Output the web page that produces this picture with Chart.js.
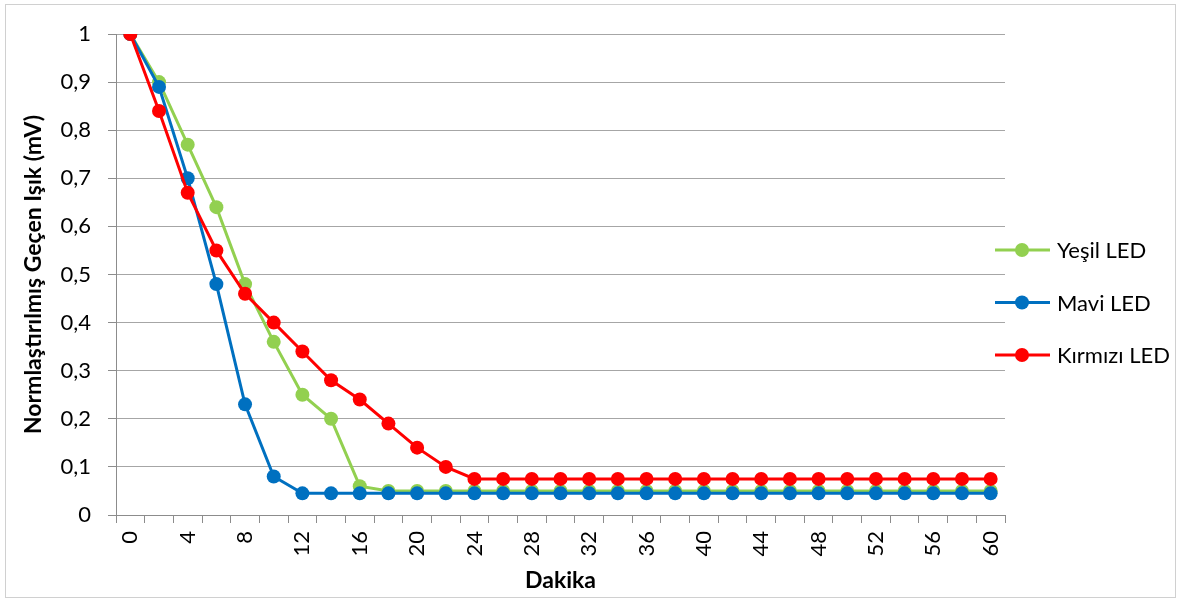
<!DOCTYPE html>
<html lang="tr">
<head>
  <meta charset="UTF-8" />
  <title>Normalize Geçen Işık - LED</title>
  <script src="https://cdn.jsdelivr.net/npm/chart.js"></script>
  <style>
    html, body {
      margin: 0;
      padding: 0;
      background: #fff;
    }
    #wrap {
      width: 1182px;
      height: 601px;
      position: relative;
    }
  </style>
</head>
<body>

<div id="wrap"><canvas id="ledChart"></canvas></div>

<script>
  // minutes (every other label is shown on the axis)
  const dakika = ['0', '2', '4', '6', '8', '10', '12', '14', '16', '18', '20', '22', '24', '26', '28', '30',
                  '32', '34', '36', '38', '40', '42', '44', '46', '48', '50', '52', '54', '56', '58', '60'];

  const yesilLed = [1, 0.9, 0.77, 0.64, 0.48, 0.36, 0.25, 0.2, 0.06, 0.05, 0.05, 0.05, 0.05, 0.05, 0.05, 0.05,
                    0.05, 0.05, 0.05, 0.05, 0.05, 0.05, 0.05, 0.05, 0.05, 0.05, 0.05, 0.05, 0.05, 0.05, 0.05];
  const maviLed = [1, 0.89, 0.7, 0.48, 0.23, 0.08, 0.045, 0.045, 0.045, 0.045, 0.045, 0.045, 0.045, 0.045, 0.045, 0.045,
                   0.045, 0.045, 0.045, 0.045, 0.045, 0.045, 0.045, 0.045, 0.045, 0.045, 0.045, 0.045, 0.045, 0.045, 0.045];
  const kirmiziLed = [1, 0.84, 0.67, 0.55, 0.46, 0.4, 0.34, 0.28, 0.24, 0.19, 0.14, 0.1, 0.075, 0.075, 0.075, 0.075,
                      0.075, 0.075, 0.075, 0.075, 0.075, 0.075, 0.075, 0.075, 0.075, 0.075, 0.075, 0.075, 0.075, 0.075, 0.075];

  const FONT = 'Lato, "Open Sans", sans-serif';
  const AXIS_GRAY = '#8c8c8c';
  const GRID_GRAY = '#a6a6a6';

  // white page + thin outer frame
  const frame = {
    id: 'frame',
    beforeDraw(chart) {
      const c = chart.ctx;
      c.save();
      c.fillStyle = '#fff';
      c.fillRect(0, 0, chart.width, chart.height);
      c.strokeStyle = '#d0d0d0';
      c.lineWidth = 1;
      c.strokeRect(5.5, 4.5, chart.width - 12, chart.height - 8);
      c.restore();
    }
  };

  // legend on the right: line with marker, then label
  const sideLegend = {
    id: 'sideLegend',
    afterDraw(chart) {
      const c = chart.ctx;
      const area = chart.chartArea;
      const x0 = area.right - 10;
      let y = area.top + 216;
      c.save();
      c.font = '22px ' + FONT;
      c.textBaseline = 'middle';
      c.textAlign = 'left';
      [0, 1, 2].forEach(i => {
        const ds = chart.data.datasets[i];
        c.strokeStyle = ds.borderColor;
        c.lineWidth = 3;
        c.beginPath();
        c.moveTo(x0, y);
        c.lineTo(x0 + 55, y);
        c.stroke();
        c.fillStyle = ds.backgroundColor;
        c.beginPath();
        c.arc(x0 + 27, y, 7, 0, Math.PI * 2);
        c.fill();
        c.fillStyle = '#000';
        c.fillText(ds.label, x0 + 62, y + 1);
        y += 52.5;
      });
      c.restore();
    }
  };

  function line(label, data, color, order) {
    return {
      label, data, order,
      borderColor: color,
      backgroundColor: color,
      borderWidth: 3,
      pointRadius: 7,
      pointBorderWidth: 0,
      pointBackgroundColor: color,
      tension: 0
    };
  }

  new Chart(document.getElementById('ledChart'), {
    type: 'line',
    data: {
      labels: dakika,
      datasets: [
        line('Yeşil LED', yesilLed, '#92d050', 3),
        line('Mavi LED', maviLed, '#0070c0', 2),
        line('Kırmızı LED', kirmiziLed, '#ff0000', 1)
      ]
    },
    options: {
      responsive: true,
      maintainAspectRatio: false,
      animation: false,
      events: [],
      layout: { padding: { left: 0, top: 34, right: 177, bottom: 0 } },
      plugins: {
        legend: { display: false },
        tooltip: { enabled: false }
      },
      scales: {
        x: {
          type: 'category',
          offset: true,
          afterFit(s) { s.height = 86; },
          grid: {
            offset: true,
            drawOnChartArea: false,
            drawTicks: true,
            tickLength: 8,
            color: AXIS_GRAY
          },
          border: { color: AXIS_GRAY },
          ticks: {
            autoSkip: false,
            minRotation: 90,
            maxRotation: 90,
            padding: 8,
            color: '#000',
            font: { family: FONT, size: 22 },
            callback(val, i) { return i % 2 === 0 ? this.getLabelForValue(val) : ''; }
          },
          title: {
            display: true,
            text: 'Dakika',
            color: '#000',
            font: { family: FONT, size: 23, weight: 'bold' },
            padding: { top: 0, bottom: 7 }
          }
        },
        y: {
          min: 0,
          max: 1,
          afterFit(s) { s.width = 116; },
          grid: {
            color: GRID_GRAY,
            tickLength: 8,
            tickColor: AXIS_GRAY
          },
          border: { color: AXIS_GRAY },
          ticks: {
            stepSize: 0.1,
            padding: 17,
            color: '#000',
            font: { family: FONT, size: 22 },
            callback(v) {
              const r = Math.round(v * 10) / 10;
              return (r === 0 || r === 1) ? String(r) : r.toFixed(1).replace('.', ',');
            }
          },
          title: {
            display: true,
            text: 'Normlaştırılmış Geçen Işık (mV)',
            color: '#000',
            font: { family: FONT, size: 23, weight: 'bold' },
            padding: { top: 20, bottom: 0 }
          }
        }
      }
    },
    plugins: [frame, sideLegend]
  });
</script>

</body>
</html>
